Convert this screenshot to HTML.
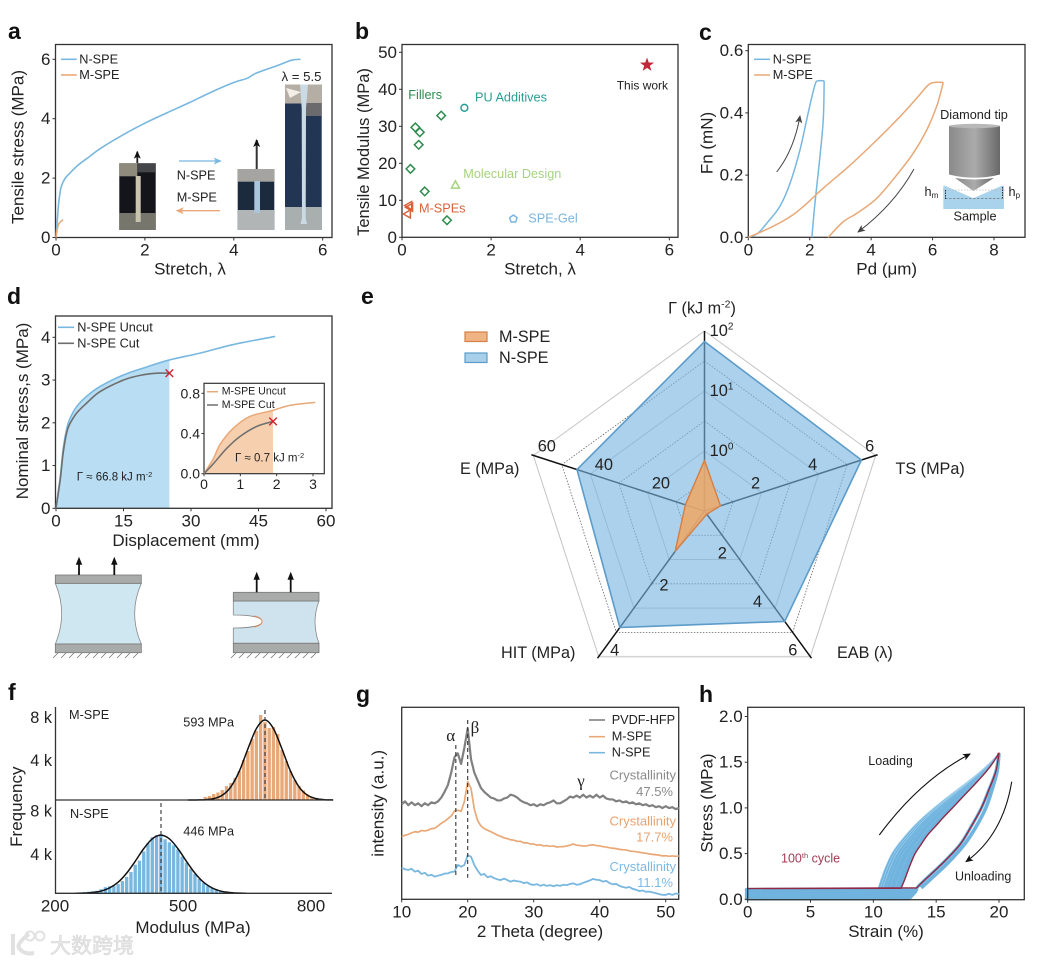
<!DOCTYPE html>
<html lang="en">
<head>
<meta charset="utf-8">
<title>Solid polymer electrolyte mechanical characterization figure</title>
<style>
html,body{margin:0;padding:0;background:#fff;width:1039px;height:964px;overflow:hidden}
svg{display:block}
text{font-family:"Liberation Sans","Noto Sans CJK SC",sans-serif;fill:#222;dominant-baseline:central}
.letter{font-size:23px;font-weight:bold;fill:#111}
.tick{font-size:17px;fill:#222}
.axis{font-size:17px;fill:#222}
.small{font-size:12.7px}
.inset{font-size:10.6px}
.serif{font-family:"Liberation Serif",serif;font-size:17px}
</style>
</head>
<body>
<svg id="figure" xmlns="http://www.w3.org/2000/svg" width="1039" height="964" viewBox="0 0 1039 964">
<defs>
<marker id="arrow-black" markerWidth="9" markerHeight="8" refX="7" refY="3.5" orient="auto" markerUnits="userSpaceOnUse"><path d="M0,0 L8,3.5 L0,7 L2,3.5 Z" fill="#111"/></marker>
<marker id="arrow-gray" markerWidth="9" markerHeight="8" refX="7" refY="3.5" orient="auto" markerUnits="userSpaceOnUse"><path d="M0,0 L8,3.5 L0,7 L2,3.5 Z" fill="#444"/></marker>
<marker id="arrow-blue" markerWidth="9" markerHeight="8" refX="7" refY="3.5" orient="auto" markerUnits="userSpaceOnUse"><path d="M0,0 L8,3.5 L0,7 L2,3.5 Z" fill="#7ab8e0"/></marker>
<marker id="arrow-orange" markerWidth="9" markerHeight="8" refX="7" refY="3.5" orient="auto" markerUnits="userSpaceOnUse"><path d="M0,0 L8,3.5 L0,7 L2,3.5 Z" fill="#e9a877"/></marker>
<linearGradient id="tip-grad" x1="0" x2="1" y1="0" y2="0"><stop offset="0" stop-color="#8a8a8a"/><stop offset=".5" stop-color="#ababab"/><stop offset="1" stop-color="#696969"/></linearGradient>
</defs>

<!-- panel letters -->
<text class="letter" x="8" y="31">a</text>
<text class="letter" x="355" y="31">b</text>
<text class="letter" x="699" y="32">c</text>
<text class="letter" x="7" y="296">d</text>
<text class="letter" x="361" y="296">e</text>
<text class="letter" x="8" y="692">f</text>
<text class="letter" x="356" y="694">g</text>
<text class="letter" x="699" y="694">h</text>

<g id="marks"></g>

<!-- panel a text -->
<text class="axis" x="190" y="269" text-anchor="middle">Stretch, λ</text>
<text class="axis" x="18" y="147" text-anchor="middle" transform="rotate(-90 18 147)">Tensile stress (MPa)</text>
<text class="small" x="79.3" y="59.3">N-SPE</text>
<text class="small" x="79.3" y="75">M-SPE</text>
<text class="small" x="281.5" y="76.5" style="font-size:13.2px">λ = 5.5</text>
<text class="small" x="176.7" y="175.7">N-SPE</text>
<text class="small" x="176.7" y="197.3">M-SPE</text>

<!-- panel b text -->
<text class="axis" x="540" y="269" text-anchor="middle">Stretch, λ</text>
<text class="axis" x="364" y="152" text-anchor="middle" transform="rotate(-90 364 152)" style="font-size:16.5px">Tensile Modulus (MPa)</text>
<text class="small" x="408.3" y="95" style="fill:#2e8b4f">Fillers</text>
<text class="small" x="475" y="97.3" style="fill:#2a9d93">PU Additives</text>
<text class="small" x="463.3" y="174" style="fill:#a5d37f">Molecular Design</text>
<text class="small" x="419" y="208.3" style="fill:#d9623b">M-SPEs</text>
<text class="small" x="528.3" y="218.7" style="fill:#7ab4dd">SPE-Gel</text>
<text class="small" x="616.7" y="85.7" style="font-size:12px">This work</text>

<!-- panel c text -->
<text class="axis" x="886.7" y="269" text-anchor="middle">Pd (μm)</text>
<text class="axis" x="707" y="143" text-anchor="middle" transform="rotate(-90 707 143)">Fn (mN)</text>
<text class="small" x="772.7" y="59.3">N-SPE</text>
<text class="small" x="772.7" y="75">M-SPE</text>

<!-- panel d text -->
<text class="axis" x="186" y="540.7" text-anchor="middle">Displacement (mm)</text>
<text class="axis" x="22.7" y="411" text-anchor="middle" transform="rotate(-90 22.7 411)">Nominal stress,s (MPa)</text>
<text class="small" x="77.3" y="327.3">N-SPE Uncut</text>
<text class="small" x="77.3" y="343.3">N-SPE Cut</text>
<text class="inset" x="221.7" y="391.7">M-SPE Uncut</text>
<text class="inset" x="221.7" y="405">M-SPE Cut</text>
<text x="76.7" y="477.7" style="font-size:11.5px">Γ ≈ 66.8 kJ m<tspan dy="-3.5" font-size="7.5">-2</tspan></text>
<text x="235" y="458.3" style="font-size:11.5px">Γ ≈ 0.7 kJ m<tspan dy="-3.5" font-size="7.5">-2</tspan></text>

<!-- panel e text -->
<text x="702" y="308.6" text-anchor="middle" style="font-size:16.2px">Γ (kJ m<tspan dy="-4" font-size="10.5">-2</tspan><tspan dy="4">)</tspan></text>
<text x="895.5" y="469" style="font-size:16.2px">TS (MPa)</text>
<text x="460" y="469" style="font-size:16.2px">E (MPa)</text>
<text x="501" y="653" style="font-size:16.2px">HIT (MPa)</text>
<text x="837" y="653" style="font-size:16.2px">EAB (λ)</text>
<rect x="465" y="332" width="22" height="9.5" fill="#f0b484" stroke="#d47f45" stroke-width="1.2"/>
<rect x="465" y="353" width="22" height="9.5" fill="#a8d0ea" stroke="#5d9cc9" stroke-width="1.2"/>
<text x="499" y="336.8" style="font-size:16.2px">M-SPE</text>
<text x="499" y="358" style="font-size:16.2px">N-SPE</text>

<!-- panel f text -->
<text class="axis" x="16.7" y="806.7" text-anchor="middle" transform="rotate(-90 16.7 806.7)">Frequency</text>
<text class="axis" x="193" y="927.3" text-anchor="middle">Modulus (MPa)</text>
<text class="small" x="69" y="715">M-SPE</text>
<text class="small" x="70" y="814">N-SPE</text>
<text class="small" x="183.3" y="722.7">593 MPa</text>
<text class="small" x="183.3" y="831.7">446 MPa</text>
<text class="tick" x="52" y="718" text-anchor="end" style="font-size:16.3px">8 k</text>
<text class="tick" x="52" y="761" text-anchor="end" style="font-size:16.3px">4 k</text>
<text class="tick" x="52" y="811.7" text-anchor="end" style="font-size:16.3px">8 k</text>
<text class="tick" x="52" y="855" text-anchor="end" style="font-size:16.3px">4 k</text>

<!-- panel g text -->
<text class="axis" x="540" y="931.7" text-anchor="middle">2 Theta (degree)</text>
<text class="axis" x="378" y="803.3" text-anchor="middle" transform="rotate(-90 378 803.3)">intensity (a.u.)</text>
<text class="small" x="611.7" y="720">PVDF-HFP</text>
<text class="small" x="611.7" y="736.7">M-SPE</text>
<text class="small" x="611.7" y="752.7">N-SPE</text>
<text class="small" x="676" y="775" text-anchor="end" style="fill:#8a8a8a;font-size:13px">Crystallinity</text>
<text class="small" x="673" y="791.7" text-anchor="end" style="fill:#8a8a8a;font-size:13px">47.5%</text>
<text class="small" x="676" y="821" text-anchor="end" style="fill:#e9a26d;font-size:13px">Crystallinity</text>
<text class="small" x="673" y="837" text-anchor="end" style="fill:#e9a26d;font-size:13px">17.7%</text>
<text class="small" x="676" y="866.7" text-anchor="end" style="fill:#7cb9e4;font-size:13px">Crystallinity</text>
<text class="small" x="673" y="882.3" text-anchor="end" style="fill:#7cb9e4;font-size:13px">11.1%</text>
<text class="serif" x="450.7" y="735.7" text-anchor="middle">α</text>
<text class="serif" x="475" y="727.7" text-anchor="middle">β</text>
<text class="serif" x="581" y="781" text-anchor="middle">γ</text>

<!-- panel h text -->
<text class="axis" x="886" y="931.7" text-anchor="middle">Strain (%)</text>
<text class="axis" x="707" y="803" text-anchor="middle" transform="rotate(-90 707 803)">Stress (MPa)</text>
<text x="868.3" y="761" style="font-size:12.5px">Loading</text>
<text x="955" y="876.7" style="font-size:12.5px">Unloading</text>
<text x="781" y="858.3" style="font-size:12.5px;fill:#a33a52">100<tspan dy="-3.5" font-size="7.5">th</tspan><tspan dy="3.5"> cycle</tspan></text>

<!-- watermark -->
<g opacity=".85">
<path d="M13,934 L13,955 M29,934 Q16,944 19,948 Q24,955 34,953" fill="none" stroke="#dcdcdc" stroke-width="4"/>
<circle cx="30" cy="936" r="4.5" fill="none" stroke="#dcdcdc" stroke-width="2"/>
<circle cx="40" cy="936" r="4.5" fill="none" stroke="#dcdcdc" stroke-width="2"/>
<text x="50" y="946.7" style="font-size:21px;fill:#e4e4e4;stroke:#cfcfcf;stroke-width:.6">大数跨境</text>
</g>
</svg>

<script>
/* ---------- panel a data ---------- */
const aStretchN = [0,0.02,0.05,0.08,0.12,0.2,0.3,0.5,0.75,1,1.5,2,2.5,3,3.5,4,4.3,4.5,5,5.3,5.5];
const aStressN = [0,0.4,1,1.4,1.72,1.98,2.15,2.44,2.72,3,3.45,3.85,4.2,4.54,4.9,5.22,5.36,5.53,5.8,5.97,6];
const aStretchM = [0,0.03,0.06,0.1,0.16];
const aStressM = [0,0.3,0.45,0.53,0.6];
const aXTicks = ['0','2','4','6'];
const aYTicks = ['0','2','4','6'];

/* ---------- panel b data ---------- */
const bFillersX = [0.88,0.3,0.4,0.375,0.19,0.51,1.01];
const bFillersY = [32.9,29.7,28.4,25,18.5,12.4,4.6];
const bPuX = [1.4];
const bPuY = [35];
const bMolecularX = [1.2];
const bMolecularY = [14.1];
const bGelX = [2.5];
const bGelY = [5];
const bMspeX = [0.15,0.17,0.12];
const bMspeY = [8.6,8.1,6.3];
const bWorkX = [5.5];
const bWorkY = [46.6];
const bXTicks = ['0','2','4','6'];
const bYTicks = ['0','10','20','30','40','50'];

/* ---------- panel c data ---------- */
const cNLoadDepth = [0,0.3,0.6,1.03,1.36,1.68,1.95,2.17,2.28,2.47];
const cNLoadForce = [0,0.012,0.045,0.1,0.174,0.28,0.4,0.49,0.503,0.503];
const cNUnloadDepth = [2.47,2.44,2.31,2.17,2.07];
const cNUnloadForce = [0.503,0.377,0.238,0.11,0];
const cMLoadDepth = [0,0.7,1.36,1.85,2.44,3.26,4.07,4.89,5.48,5.86,6.08,6.35];
const cMLoadForce = [0,0.03,0.066,0.104,0.158,0.227,0.302,0.383,0.447,0.49,0.498,0.498];
const cMUnloadDepth = [6.35,6.13,5.81,5.37,4.83,4.18,3.53,3.09,2.6];
const cMUnloadForce = [0.498,0.42,0.345,0.27,0.2,0.125,0.077,0.05,0];
const cXTicks = ['0','2','4','6','8'];
const cYTicks = ['0.0','0.2','0.4','0.6'];

/* ---------- panel d data ---------- */
const dUncutDisp = [0,0.5,1,1.6,2.4,3.1,4.6,6.8,9.8,15,20,25.2,32,39.4,48.7];
const dUncutStress = [0,0.39,0.78,1.4,1.87,2.1,2.38,2.62,2.85,3.12,3.3,3.47,3.63,3.83,4.02];
const dCutDisp = [0,0.5,1,1.6,2.4,3.1,4.6,6.8,9.8,15,18.7,22.4,25.2];
const dCutStress = [0,0.35,0.72,1.3,1.78,1.98,2.23,2.46,2.73,3,3.11,3.16,3.16];
const dXTicks = ['0','15','30','45','60'];
const dYTicks = ['0','1','2','3','4'];
const dInsetUncutDisp = [0,0.26,0.44,0.8,1.26,1.9,2.36,3.06];
const dInsetUncutStress = [0,0.15,0.29,0.45,0.57,0.63,0.68,0.71];
const dInsetCutDisp = [0,0.26,0.62,0.99,1.45,1.9];
const dInsetCutStress = [0,0.1,0.25,0.37,0.47,0.52];
const dInsetXTicks = ['0','1','2','3'];
const dInsetYTicks = ['0.0','0.4','0.8'];

/* ---------- panel e data ---------- */
const eAxes = ['toughness','tensile-strength','elongation','hardness','modulus'];
const eMaxima = [100,6,6,4,60];
const eNValues = [66.8,5.5,4.55,3.2,44.7];
const eMValues = [0.7,0.56,0.13,1.11,6.7];
const eRingLevels = [1,2,3,4,5,6];
const eTsTicks = ['2','4','6'];
const eEabTicks = ['2','4','6'];
const eHitTicks = ['2','4'];
const eModulusTicks = ['20','40','60'];
const eToughExponents = ['0','1','2'];

/* ---------- panel f data ---------- */
const fTopBinStart = 542;
const fTopBins = [0.1,0.3,0.4,0.6,0.75,1,1.4,1.7,2.2,2.9,4,4.9,6.1,6.9,8.5,7.8,7.2,7.3,6.6,5,3.9,2.9,2,1.4,0.95,0.55,0.3,0.2,0.12,0.08];
const fTopFitX = [512,532,552,572,592,612,632,652,672,692,712,732,752,772,792,812,832,852];
const fTopFitY = [0,0.006,0.03,0.14,0.47,1.31,2.88,5.1,7.14,8,7.14,5.1,2.88,1.31,0.47,0.14,0.03,0.006];
const fBottomBinStart = 268;
const fBottomBins = [0.1,0.15,0.2,0.25,0.4,0.6,0.7,0.7,0.9,1.2,1.6,2.1,2.8,3.2,4.1,4.9,5.5,5.7,5.8,5.3,5,4.7,4.3,3.6,3,2.4,1.9,1.4,1,0.7,0.55,0.35,0.2,0.08];
const fBottomFitX = [248,268,288,308,328,348,368,388,408,428,448,468,488,508,528,548,568,588,608,628,648];
const fBottomFitY = [0.008,0.027,0.083,0.22,0.53,1.09,1.98,3.14,4.38,5.34,5.7,5.34,4.38,3.14,1.98,1.09,0.53,0.22,0.083,0.027,0.008];
const fXTicks = ['200','500','800'];

/* ---------- panel g data (sampled every 0.5 degree from 10 to 52) ---------- */
const gPvdf = [49.5,51,49,50.5,49,50,48.5,50,49,50.5,50,51,53,56,59.5,66,74,76,70.5,79,89,73,66,62,58,56,54.5,53,52.5,51.5,51.5,52.5,53,54.5,54,53,51.5,50.5,50,49,49.5,48.5,49.5,49,50,50.5,51.5,50,50,51,52,53.5,53,54,53,54.5,53,54,53,54.5,53,54,52.5,52,52,51,51.5,50.5,51,50,50.5,49.5,50,49,49.5,48.5,49,48,48.5,47.5,48.5,47.5,48,47,47.5];
const gMspe = [32.6,33.4,33.8,34.6,35.2,35,35.8,35.6,36,36.8,37,38.2,39.6,40.6,42,43.4,46,46.4,45.8,51,61.3,57.8,47,41,38.2,36.8,36,35.2,34.4,33.4,32.8,32,31.6,31,30.8,30.2,30.2,29.4,29.4,28.8,28.8,28.2,28.4,27.8,28,27.6,27.8,27.2,27.4,27.4,27.8,28.2,28.8,28.2,28,27.8,27.8,28.2,28.4,28,27.8,27.4,27.2,26.8,26.6,26.4,26,25.8,25.7,25.2,25,24.8,24.5,24.2,24,23.6,23.4,23.2,23,22.6,22.7,22.4,22.6,22.4,22.6];
const gNspe = [16.5,15.6,15.3,15.9,14.4,14.9,13.2,13.8,12.3,12.8,11.8,12.3,12.7,13.4,13.5,14.2,14.4,17.9,17,17.9,23,22.2,17.9,15,12.7,13.2,11.5,12,11,10.4,10,10.8,10,9.2,9.8,9.4,9.2,8.4,8.8,7.8,7.5,7.9,7,7.6,7,7.4,6.8,7.4,7,7.6,7.4,8,8.3,7.6,7.8,8.6,9.2,9.8,10.6,10.2,10,9.2,9.6,8.4,7.8,8,7,6.4,6,6.4,5.4,5,4.3,4.6,3.9,4,3.6,3.2,2.7,2.3,2.3,2.9,2.3,3,2.8];
const gXTicks = ['10','20','30','40','50'];
const gAlphaTheta = 18.2;
const gBetaTheta = 20;

/* ---------- panel h data ---------- */
const hLoadStress = [0.12,0.2,0.3,0.4,0.5,0.6,0.7,0.8,0.9,1,1.1,1.2,1.3,1.4,1.5,1.6];
const hLoadCycle1 = [10.35,10.55,10.8,11.1,11.45,11.95,12.55,13.2,13.95,14.8,15.7,16.65,17.6,18.5,19.3,20];
const hLoadCycle2 = [10.55,10.75,11,11.3,11.65,12.15,12.75,13.38,14.12,14.95,15.83,16.75,17.68,18.55,19.33,20];
const hLoadCycle5 = [10.75,10.95,11.2,11.5,11.85,12.35,12.95,13.56,14.28,15.1,15.95,16.85,17.75,18.6,19.36,20];
const hLoadCycle10 = [11,11.2,11.45,11.75,12.1,12.6,13.2,13.8,14.5,15.3,16.1,16.98,17.85,18.68,19.4,20];
const hLoadCycle20 = [11.3,11.5,11.75,12.05,12.4,12.9,13.45,14.05,14.75,15.5,16.3,17.15,18,18.78,19.45,20];
const hLoadCycle50 = [11.7,11.95,12.2,12.5,12.85,13.35,13.9,14.5,15.2,15.9,16.65,17.4,18.15,18.9,19.5,20];
const hLoadCycle100 = [12.2,12.45,12.72,13,13.32,13.8,14.3,14.95,15.6,16.3,16.98,17.67,18.35,19,19.55,20];
const hUnloadStress = [1.6,1.4,1.2,1,0.8,0.6,0.4,0.2,0.125];
const hUnloadCycle1 = [20,19.85,19.45,18.95,18.2,17.25,15.95,14.4,13.8];
const hUnloadCycle100 = [20,19.75,19.2,18.6,17.8,16.9,15.55,14,13.45];
const hResidualStress = [0.005,0.02,0.035,0.05,0.065,0.08,0.095,0.108];
const hResidualEnd = [12.8,12.95,13.05,13.15,13.25,13.35,13.4,13.45];
const hCycle100Flat = 0.118;
const hXTicks = ['0','5','10','15','20'];
const hYTicks = ['0.0','0.5','1.0','1.5','2.0'];

/* ---------- colours ---------- */
const BLUE = '#78b7e0';
const ORANGE = '#e9a877';
const GRAY = '#6e6e6e';
const SPINE = '#333';
const NS = 'http://www.w3.org/2000/svg';
const root = document.getElementById('marks');

/* ---------- helpers ---------- */
function scale(d0, d1, r0, r1) { return v => r0 + (v - d0) * (r1 - r0) / (d1 - d0); }
function add(parent, tag, attrs, name) {
  const el = document.createElementNS(NS, tag);
  for (const k in attrs) el.setAttribute(k, attrs[k]);
  
  
  parent.appendChild(el);
  return el;
}
function panel(name) {
  const g = document.createElementNS(NS, 'g');
  
  
  root.appendChild(g);
  return g;
}
function txt(parent, x, y, s, cls, anchor, name) {
  const el = add(parent, 'text', {x: x, y: y, class: cls, 'text-anchor': anchor}, name);
  el.textContent = s;
  return el;
}
function straight(xs, ys, sx, sy) {
  return xs.map((v, i) => (i ? 'L' : 'M') + sx(v).toFixed(2) + ',' + sy(ys[i]).toFixed(2)).join(' ');
}
function smooth(xs, ys, sx, sy) {
  const p = xs.map((v, i) => [sx(v), sy(ys[i])]);
  let d = 'M' + p[0][0].toFixed(2) + ',' + p[0][1].toFixed(2);
  for (let i = 0; i < p.length - 1; i++) {
    const a = p[Math.max(i - 1, 0)], b = p[i], c = p[i + 1], e = p[Math.min(i + 2, p.length - 1)];
    const c1x = b[0] + (c[0] - a[0]) / 6, c1y = b[1] + (c[1] - a[1]) / 6;
    const c2x = c[0] - (e[0] - b[0]) / 6, c2y = c[1] - (e[1] - b[1]) / 6;
    d += ' C' + c1x.toFixed(2) + ',' + c1y.toFixed(2) + ' ' + c2x.toFixed(2) + ',' + c2y.toFixed(2) + ' ' + c[0].toFixed(2) + ',' + c[1].toFixed(2);
  }
  return d;
}
function line(g, d, color, width, name) {
  return add(g, 'path', {d: d, fill: 'none', stroke: color, 'stroke-width': width, 'stroke-linejoin': 'round'}, name);
}
function frame(g, box, sx, sy, xTicks, yTicks, prefix, tickClass, tickSize) {
  add(g, 'rect', {x: box.x0, y: box.y0, width: box.x1 - box.x0, height: box.y1 - box.y0, fill: 'none', stroke: SPINE, 'stroke-width': 1.3}, prefix + '-plot-frame');
  const cls = tickClass || 'tick';
  const len = tickSize || 3;
  xTicks.forEach(t => {
    const x = sx(parseFloat(t));
    add(g, 'line', {x1: x, x2: x, y1: box.y1, y2: box.y1 + len, stroke: SPINE, 'stroke-width': 1}, prefix + '-x-tick-mark');
    txt(g, x, box.y1 + 12.5, t, cls, 'middle', prefix + '-x-tick-label');
  });
  yTicks.forEach(t => {
    const y = sy(parseFloat(t));
    add(g, 'line', {x1: box.x0 - len, x2: box.x0, y1: y, y2: y, stroke: SPINE, 'stroke-width': 1}, prefix + '-y-tick-mark');
    txt(g, box.x0 - 5, y, t, cls, 'end', prefix + '-y-tick-label');
  });
}
function cross(g, x, y, r, name) {
  add(g, 'path', {d: `M${x-r},${y-r} L${x+r},${y+r} M${x-r},${y+r} L${x+r},${y-r}`, stroke: '#d4212f', 'stroke-width': 1.4, fill: 'none'}, name);
}

/* ---------- panel a ---------- */
(function () {
  const g = panel('panel-a-tensile-chart');
  const box = {x0: 55.5, x1: 332, y0: 44.5, y1: 237.5};
  const sx = scale(0, 6, 56, 322.7), sy = scale(0, 6, 237.5, 59.3);
  frame(g, box, sx, sy, aXTicks, aYTicks, 'a');
  line(g, smooth(aStretchN, aStressN, sx, sy), BLUE, 1.6, 'a-n-spe-curve');
  line(g, smooth(aStretchM, aStressM, sx, sy), ORANGE, 1.6, 'a-m-spe-curve');
  add(g, 'line', {x1: 61, x2: 76.7, y1: 59.3, y2: 59.3, stroke: BLUE, 'stroke-width': 1.6}, 'a-legend-line-n-spe');
  add(g, 'line', {x1: 61, x2: 76.7, y1: 75, y2: 75, stroke: ORANGE, 'stroke-width': 1.6}, 'a-legend-line-m-spe');

  const p1 = add(g, 'g', {}, 'a-photo-initial');
  add(p1, 'rect', {x: 119.3, y: 163.3, width: 36.4, height: 66.7, fill: '#14151b'}, 'photo-background');
  add(p1, 'rect', {x: 119.3, y: 163.3, width: 18, height: 13, fill: '#8f8b7c'}, 'photo-top-clamp-left');
  add(p1, 'rect', {x: 137.3, y: 163.3, width: 18.4, height: 9, fill: '#45464a'}, 'photo-top-clamp-right');
  add(p1, 'rect', {x: 119.3, y: 213, width: 36.4, height: 17, fill: '#77766d'}, 'photo-bottom-clamp');
  add(p1, 'rect', {x: 135.7, y: 176, width: 5, height: 46, fill: '#c8c4b0'}, 'photo-sample-strip');
  const p2 = add(g, 'g', {}, 'a-photo-intermediate');
  add(p2, 'rect', {x: 237.7, y: 169, width: 36.6, height: 61, fill: '#1c2a3d'}, 'photo-background');
  add(p2, 'rect', {x: 237.7, y: 169, width: 36.6, height: 12.7, fill: '#a5a4a0'}, 'photo-top-clamp');
  add(p2, 'rect', {x: 237.7, y: 210, width: 36.6, height: 20, fill: '#b2b5b5'}, 'photo-bottom-clamp');
  add(p2, 'rect', {x: 254.3, y: 181, width: 5.7, height: 32, fill: '#a9c6dc'}, 'photo-sample-strip');
  const p3 = add(g, 'g', {}, 'a-photo-stretched');
  add(p3, 'rect', {x: 285, y: 84.5, width: 36.7, height: 145.5, fill: '#223654'}, 'photo-background');
  add(p3, 'rect', {x: 285, y: 84.5, width: 36.7, height: 19, fill: '#b5aea5'}, 'photo-top-clamp');
  add(p3, 'rect', {x: 306, y: 103, width: 15.7, height: 13, fill: '#6b6a6c'}, 'photo-top-shadow');
  add(p3, 'path', {d: 'M286,88 L301,92 L290,98 Z', fill: '#f3efe6'}, 'photo-top-highlight');
  add(p3, 'rect', {x: 285, y: 207, width: 36.7, height: 23, fill: '#a9aeae'}, 'photo-bottom-clamp');
  add(p3, 'path', {d: 'M300,84.5 L308,84.5 L306,108 L305.7,218 L307,224 L300.5,224 L302,218 L301.7,108 Z', fill: '#cbdbe6'}, 'photo-sample-strip');

  add(g, 'line', {x1: 137.3, x2: 137.3, y1: 163, y2: 151.7, stroke: '#222', 'stroke-width': 1.8, 'marker-end': 'url(#arrow-black)'}, 'a-photo-arrow-1');
  add(g, 'line', {x1: 256.7, x2: 256.7, y1: 169, y2: 140, stroke: '#333', 'stroke-width': 2, 'marker-end': 'url(#arrow-black)'}, 'a-photo-arrow-2');
  add(g, 'line', {x1: 179, x2: 220.7, y1: 161, y2: 161, stroke: BLUE, 'stroke-width': 1.3, 'marker-end': 'url(#arrow-blue)'}, 'a-n-spe-arrow');
  add(g, 'line', {x1: 220, x2: 176.7, y1: 210.7, y2: 210.7, stroke: ORANGE, 'stroke-width': 1.3, 'marker-end': 'url(#arrow-orange)'}, 'a-m-spe-arrow');
})();

/* ---------- panel b ---------- */
(function () {
  const g = panel('panel-b-modulus-scatter');
  const box = {x0: 402, x1: 678, y0: 44.5, y1: 237.3};
  const sx = scale(0, 6, 402, 669.3), sy = scale(0, 50, 237.3, 52.3);
  frame(g, box, sx, sy, bXTicks, bYTicks, 'b');
  const base = {fill: 'none', 'stroke-width': 1.5};
  bFillersX.forEach((v, i) => {
    const x = sx(v), y = sy(bFillersY[i]), r = 4.3;
    add(g, 'path', Object.assign({d: `M${x},${y-r} L${x+r},${y} L${x},${y+r} L${x-r},${y} Z`, stroke: '#2e8b4f'}, base), 'b-point-fillers');
  });
  bPuX.forEach((v, i) => {
    add(g, 'circle', Object.assign({cx: sx(v), cy: sy(bPuY[i]), r: 3.4, stroke: '#2a9d93'}, base), 'b-point-pu-additives');
  });
  bMolecularX.forEach((v, i) => {
    const x = sx(v), y = sy(bMolecularY[i]);
    add(g, 'path', Object.assign({d: `M${x},${y-4.3} L${x+4},${y+3} L${x-4},${y+3} Z`, stroke: '#a5d37f'}, base), 'b-point-molecular-design');
  });
  bGelX.forEach((v, i) => {
    const x = sx(v), y = sy(bGelY[i]);
    add(g, 'path', Object.assign({d: `M${x},${y-3.8} L${x+3.7},${y-1.1} L${x+2.3},${y+3.2} L${x-2.3},${y+3.2} L${x-3.7},${y-1.1} Z`, stroke: '#7ab4dd'}, base), 'b-point-spe-gel');
  });
  bMspeX.forEach((v, i) => {
    const x = sx(v), y = sy(bMspeY[i]);
    add(g, 'path', Object.assign({d: `M${x-4},${y} L${x+3},${y-4} L${x+3},${y+4} Z`, stroke: '#d9623b'}, base), 'b-point-m-spe');
  });
  bWorkX.forEach((v, i) => {
    const x = sx(v), y = sy(bWorkY[i]), pts = [];
    for (let k = 0; k < 10; k++) {
      const r = k % 2 ? 3 : 7.4, a = -Math.PI / 2 + k * Math.PI / 5;
      pts.push((x + r * Math.cos(a)).toFixed(2) + ',' + (y + r * Math.sin(a)).toFixed(2));
    }
    add(g, 'polygon', {points: pts.join(' '), fill: '#c3283a'}, 'b-point-this-work-star');
  });
})();

/* ---------- panel c ---------- */
(function () {
  const g = panel('panel-c-nanoindentation-chart');
  const box = {x0: 748.3, x1: 1025, y0: 44.5, y1: 237.3};
  const sx = scale(0, 8, 748.3, 994), sy = scale(0, 0.6, 237.3, 50.7);
  frame(g, box, sx, sy, cXTicks, cYTicks, 'c');
  line(g, smooth(cNLoadDepth, cNLoadForce, sx, sy), BLUE, 1.5, 'c-n-spe-loading-curve');
  line(g, smooth(cNUnloadDepth, cNUnloadForce, sx, sy), BLUE, 1.5, 'c-n-spe-unloading-curve');
  line(g, smooth(cMLoadDepth, cMLoadForce, sx, sy), ORANGE, 1.5, 'c-m-spe-loading-curve');
  line(g, smooth(cMUnloadDepth, cMUnloadForce, sx, sy), ORANGE, 1.5, 'c-m-spe-unloading-curve');
  add(g, 'line', {x1: 754, x2: 770, y1: 59.3, y2: 59.3, stroke: BLUE, 'stroke-width': 1.5}, 'c-legend-line-n-spe');
  add(g, 'line', {x1: 754, x2: 770, y1: 75, y2: 75, stroke: ORANGE, 'stroke-width': 1.5}, 'c-legend-line-m-spe');
  add(g, 'path', {d: 'M776.7,172 Q794,150 800,116', fill: 'none', stroke: '#444', 'stroke-width': 1, 'marker-end': 'url(#arrow-gray)'}, 'c-loading-arrow');
  add(g, 'path', {d: 'M914,169 Q894,205 858,232', fill: 'none', stroke: '#444', 'stroke-width': 1, 'marker-end': 'url(#arrow-gray)'}, 'c-unloading-arrow');

  const s = add(g, 'g', {}, 'c-indenter-schematic');
  add(s, 'path', {d: 'M943.3,185.7 L945,185.7 L973.3,198.3 L1001.7,185.7 L1004,185.7 L1004,209 L943.3,209 Z', fill: '#a9d3ec'}, 'c-sample-block');
  add(s, 'path', {d: 'M955,178 Q974,181 994,178 L973.5,191 Z', fill: 'url(#tip-grad)'}, 'c-tip-cone');
  add(s, 'path', {d: 'M949,126 L949,174.5 Q974.5,181 1000,174.5 L1000,126 Z', fill: 'url(#tip-grad)'}, 'c-tip-cylinder');
  add(s, 'ellipse', {cx: 974.5, cy: 126, rx: 25.5, ry: 2.2, fill: '#b8b8b8'}, 'c-tip-cylinder-top');
  add(s, 'path', {d: 'M943,190 L1005,190', stroke: '#bbb', 'stroke-width': 0.7, 'stroke-dasharray': '1.5 1.5', fill: 'none'}, 'c-surface-guide');
  add(s, 'path', {d: 'M945,198.7 L1003,198.7', stroke: '#666', 'stroke-width': 0.7, 'stroke-dasharray': '2.5 1.5', fill: 'none'}, 'c-depth-guide');
  add(s, 'path', {d: 'M945.5,190 L945.5,199 M1002.5,187 L1002.5,198', stroke: '#222', 'stroke-width': 0.9, 'stroke-dasharray': '1.5 1', fill: 'none'}, 'c-depth-markers');
  txt(s, 974, 115, 'Diamond tip', 'small', 'middle', 'c-diamond-tip-label');
  txt(s, 975, 216.7, 'Sample', 'small', 'middle', 'c-sample-label');
  const hm = txt(s, 924.5, 192, 'h', 'small', 'start', 'c-hm-label');
  const hmSub = add(hm, 'tspan', {dy: 3, 'font-size': 8}, 'c-hm-subscript');
  hmSub.textContent = 'm';
  const hp = txt(s, 1008.5, 192, 'h', 'small', 'start', 'c-hp-label');
  const hpSub = add(hp, 'tspan', {dy: 3, 'font-size': 8}, 'c-hp-subscript');
  hpSub.textContent = 'p';
})();

/* ---------- panel d ---------- */
(function () {
  const g = panel('panel-d-tearing-chart');
  const box = {x0: 55.5, x1: 332, y0: 316, y1: 508.3};
  const sx = scale(0, 60, 56, 326), sy = scale(0, 4, 508.3, 337.3);
  const fillEnd = dCutDisp[dCutDisp.length - 1];
  const fillX = dUncutDisp.filter(v => v <= fillEnd);
  const fillY = fillX.map(v => dUncutStress[dUncutDisp.indexOf(v)]);
  add(g, 'path', {d: smooth(fillX, fillY, sx, sy) + ` L${sx(fillEnd)},${sy(0)} L${sx(0)},${sy(0)} Z`, fill: '#b9def3'}, 'd-energy-area');
  frame(g, box, sx, sy, dXTicks, dYTicks, 'd');
  line(g, smooth(dUncutDisp, dUncutStress, sx, sy), BLUE, 1.6, 'd-n-spe-uncut-curve');
  line(g, smooth(dCutDisp, dCutStress, sx, sy), GRAY, 1.6, 'd-n-spe-cut-curve');
  cross(g, sx(fillEnd), sy(dCutStress[dCutStress.length - 1]), 3.8, 'd-n-spe-fracture-marker');
  add(g, 'line', {x1: 58, x2: 74, y1: 327.3, y2: 327.3, stroke: BLUE, 'stroke-width': 1.6}, 'd-legend-line-uncut');
  add(g, 'line', {x1: 58, x2: 74, y1: 343.3, y2: 343.3, stroke: GRAY, 'stroke-width': 1.6}, 'd-legend-line-cut');

  const inset = add(g, 'g', {}, 'd-inset-chart');
  const ibox = {x0: 204, x1: 324.3, y0: 383.3, y1: 473.7};
  const ix = scale(0, 3, 204, 313), iy = scale(0, 0.8, 473.7, 393.3);
  add(inset, 'rect', {x: ibox.x0, y: ibox.y0, width: ibox.x1 - ibox.x0, height: ibox.y1 - ibox.y0, fill: '#fff'}, 'd-inset-background');
  const iEnd = dInsetCutDisp[dInsetCutDisp.length - 1];
  const ifx = dInsetUncutDisp.filter(v => v <= iEnd);
  const ify = ifx.map(v => dInsetUncutStress[dInsetUncutDisp.indexOf(v)]);
  add(inset, 'path', {d: smooth(ifx, ify, ix, iy) + ` L${ix(iEnd)},${iy(0)} L${ix(0)},${iy(0)} Z`, fill: '#f6cfae'}, 'd-inset-energy-area');
  add(inset, 'rect', {x: ibox.x0, y: ibox.y0, width: ibox.x1 - ibox.x0, height: ibox.y1 - ibox.y0, fill: 'none', stroke: SPINE, 'stroke-width': 1.2}, 'd-inset-frame');
  dInsetXTicks.forEach(t => {
    const x = ix(parseFloat(t));
    add(inset, 'line', {x1: x, x2: x, y1: ibox.y1, y2: ibox.y1 + 2.5, stroke: SPINE, 'stroke-width': 1}, 'd-inset-x-tick-mark');
    const el = txt(inset, x, ibox.y1 + 10.5, t, 'tick', 'middle', 'd-inset-x-tick-label');
    el.style.fontSize = '14px';
  });
  dInsetYTicks.forEach(t => {
    const y = iy(parseFloat(t));
    add(inset, 'line', {x1: ibox.x0 - 2.5, x2: ibox.x0, y1: y, y2: y, stroke: SPINE, 'stroke-width': 1}, 'd-inset-y-tick-mark');
    const el = txt(inset, ibox.x0 - 4, y, t, 'tick', 'end', 'd-inset-y-tick-label');
    el.style.fontSize = '14px';
  });
  line(inset, smooth(dInsetUncutDisp, dInsetUncutStress, ix, iy), ORANGE, 1.5, 'd-inset-m-spe-uncut-curve');
  line(inset, smooth(dInsetCutDisp, dInsetCutStress, ix, iy), GRAY, 1.5, 'd-inset-m-spe-cut-curve');
  cross(inset, ix(iEnd), iy(dInsetCutStress[dInsetCutStress.length - 1]), 3.8, 'd-inset-fracture-marker');
  add(inset, 'line', {x1: 207, x2: 218, y1: 391.7, y2: 391.7, stroke: ORANGE, 'stroke-width': 1.5}, 'd-inset-legend-line-uncut');
  add(inset, 'line', {x1: 207, x2: 218, y1: 405, y2: 405, stroke: GRAY, 'stroke-width': 1.5}, 'd-inset-legend-line-cut');

  const sc = add(g, 'g', {}, 'd-specimen-schematics');
  const grip = {fill: '#a9abab', stroke: '#777', 'stroke-width': 0.8};
  const arrowUp = (x, y0, y1, name) => {
    add(sc, 'line', {x1: x, x2: x, y1: y0, y2: y1 + 5, stroke: '#111', 'stroke-width': 1.8}, name);
    add(sc, 'path', {d: `M${x},${y1} L${x+3.2},${y1+8} L${x-3.2},${y1+8} Z`, fill: '#111'}, name + '-head');
  };
  add(sc, 'path', {d: 'M55.3,583.3 Q68,613.5 55.3,644 L141.3,644 Q128,613.5 141.3,583.3 Z', fill: '#cfe7f1', stroke: '#888', 'stroke-width': 0.8}, 'd-uncut-specimen');
  add(sc, 'rect', Object.assign({x: 55.3, y: 575, width: 86, height: 8.3}, grip), 'd-uncut-top-grip');
  add(sc, 'rect', Object.assign({x: 55.3, y: 644, width: 86, height: 8.7}, grip), 'd-uncut-bottom-grip');
  arrowUp(79, 575, 556.7, 'd-uncut-arrow-left');
  arrowUp(114.3, 575, 556.7, 'd-uncut-arrow-right');
  add(sc, 'path', {d: 'M233.3,601 L233.3,615 C250,615 262,617 262,621.5 C262,626 250,628 233.3,628 L233.3,643.3 L319,643.3 Q311,622 319,601 Z', fill: '#cfe3ee', stroke: '#888', 'stroke-width': 0.8}, 'd-cut-specimen');
  add(sc, 'path', {d: 'M254,616 C259,617 262,619 262,621.5 C262,624 259,626 254,627', fill: 'none', stroke: '#e08a5f', 'stroke-width': 0.9}, 'd-crack-tip');
  add(sc, 'rect', Object.assign({x: 233.3, y: 592.3, width: 85.7, height: 8.7}, grip), 'd-cut-top-grip');
  add(sc, 'rect', Object.assign({x: 233.3, y: 643.3, width: 85.7, height: 9.4}, grip), 'd-cut-bottom-grip');
  arrowUp(256.7, 592.3, 571.7, 'd-cut-arrow-left');
  arrowUp(290.7, 592.3, 571.7, 'd-cut-arrow-right');
  let h1 = '', h2 = '';
  for (let k = 0; k < 11; k++) { h1 += `M${58 + k * 8},653 l-5,5 `; h2 += `M${236 + k * 8},653 l-5,5 `; }
  add(sc, 'path', {d: h1, stroke: '#777', 'stroke-width': 0.8, fill: 'none'}, 'd-uncut-ground-hatch');
  add(sc, 'path', {d: h2, stroke: '#777', 'stroke-width': 0.8, fill: 'none'}, 'd-cut-ground-hatch');
})();

/* ---------- panel e ---------- */
(function () {
  const g = panel('panel-e-radar-chart');
  const cx = 704.5, cy = 511, R = 180;
  const angle = i => (-90 + i * 72) * Math.PI / 180;
  const radial = (i, v) => i === 0 ? R / 3 * (1 + Math.log10(v)) : R * v / eMaxima[i];
  const point = (i, r) => [cx + r * Math.cos(angle(i)), cy + r * Math.sin(angle(i))];
  eRingLevels.forEach(level => {
    const r = R * level / 6;
    const pts = eAxes.map((_, i) => point(i, r).map(n => n.toFixed(2)).join(',')).join(' ');
    const el = add(g, 'polygon', {points: pts, fill: 'none', stroke: level % 2 ? '#666' : '#c4c4c4', 'stroke-width': level % 2 ? 0.8 : 1}, 'e-grid-ring');
    if (level % 2) el.setAttribute('stroke-dasharray', '1.5 1.5');
  });
  const bl = point(3, R), br = point(2, R);
  add(g, 'line', {x1: bl[0], y1: bl[1], x2: br[0], y2: br[1], stroke: '#d4d4d4', 'stroke-width': 1.6}, 'e-outer-ring-bottom');
  eAxes.forEach((name, i) => {
    const e = point(i, R + (i === 0 ? 0 : 2));
    add(g, 'line', {x1: cx, y1: cy, x2: e[0], y2: e[1], stroke: '#111', 'stroke-width': 1.5}, 'e-axis-line-' + name);
  });
  const poly = vals => vals.map((v, i) => point(i, radial(i, v)).map(n => n.toFixed(2)).join(',')).join(' ');
  add(g, 'polygon', {points: poly(eNValues), fill: '#78b5e0', 'fill-opacity': 0.62, stroke: '#5d9cc9', 'stroke-width': 1.6, 'stroke-linejoin': 'round'}, 'e-n-spe-polygon');
  add(g, 'polygon', {points: poly(eMValues), fill: '#eda869', 'fill-opacity': 0.88, stroke: '#d47f45', 'stroke-width': 1.4, 'stroke-linejoin': 'round'}, 'e-m-spe-polygon');

  const label = (x, y, s, name) => { const el = txt(g, x, y, s, 'tick', 'middle', name); el.style.fontSize = '16.4px'; return el; };
  eToughExponents.forEach(exp => {
    const p = point(0, radial(0, Math.pow(10, parseFloat(exp))));
    const el = label(p[0] + 17, p[1], '10', 'e-toughness-tick-label');
    const sup = add(el, 'tspan', {dy: -4.5, 'font-size': 10}, 'e-toughness-tick-exponent');
    sup.textContent = exp;
  });
  eTsTicks.forEach(t => { const p = point(1, radial(1, parseFloat(t))); label(p[0] - 6, p[1] - 9, t, 'e-ts-tick-label'); });
  eEabTicks.forEach(t => { const p = point(2, radial(2, parseFloat(t))); label(p[0] - 17.5, p[1] - 6, t, 'e-eab-tick-label'); });
  eHitTicks.forEach((t, k) => {
    const p = point(3, radial(3, parseFloat(t)));
    label(p[0] + (k ? 16 : 12.4), p[1] + (k ? -6 : 1.8), t, 'e-hit-tick-label');
  });
  eModulusTicks.forEach(t => { const p = point(4, radial(4, parseFloat(t))); label(p[0] + 13.5, p[1] - 9, t, 'e-modulus-tick-label'); });
})();

/* ---------- panel f ---------- */
(function () {
  const g = panel('panel-f-modulus-histograms');
  const sx = scale(200, 800, 55, 311);
  const topY = scale(0, 8, 800, 720), botY = scale(0, 8, 893.3, 811.7);
  const step = 10, w = (sx(step) - sx(0)) * 0.78;
  fTopBins.forEach((v, i) => {
    const x = sx(fTopBinStart + i * step);
    add(g, 'rect', {x: x - w / 2, y: topY(v), width: w, height: 800 - topY(v), fill: ORANGE}, 'f-top-bar');
  });
  fBottomBins.forEach((v, i) => {
    const x = sx(fBottomBinStart + i * step);
    add(g, 'rect', {x: x - w / 2, y: botY(v), width: w, height: 893.3 - botY(v), fill: BLUE}, 'f-bottom-bar');
  });
  line(g, smooth(fTopFitX, fTopFitY, sx, topY), '#111', 1.5, 'f-top-fit-curve');
  line(g, smooth(fBottomFitX, fBottomFitY, sx, botY), '#111', 1.5, 'f-bottom-fit-curve');
  add(g, 'line', {x1: 265, x2: 265, y1: 710, y2: 800, stroke: '#333', 'stroke-width': 1.1, 'stroke-dasharray': '4 3'}, 'f-top-mean-line');
  add(g, 'line', {x1: 161, x2: 161, y1: 803, y2: 893, stroke: '#333', 'stroke-width': 1.1, 'stroke-dasharray': '4 3'}, 'f-bottom-mean-line');
  add(g, 'line', {x1: 55.5, x2: 55.5, y1: 707, y2: 893.3, stroke: SPINE, 'stroke-width': 1.3}, 'f-y-axis-line');
  add(g, 'line', {x1: 55, x2: 332, y1: 800, y2: 800, stroke: SPINE, 'stroke-width': 1.3}, 'f-middle-axis-line');
  add(g, 'line', {x1: 55, x2: 332, y1: 893.3, y2: 893.3, stroke: SPINE, 'stroke-width': 1.3}, 'f-x-axis-line');
  fXTicks.forEach(t => { txt(g, sx(parseFloat(t)), 906, t, 'tick', 'middle', 'f-x-tick-label'); });
})();

/* ---------- panel g ---------- */
(function () {
  const g = panel('panel-g-xrd-chart');
  const box = {x0: 401.7, x1: 678.7, y0: 707.3, y1: 899.3};
  const sx = scale(10, 50, 401.7, 665.7), sy = scale(0, 100, 899.3, 707.3);
  frame(g, box, sx, sy, gXTicks, [], 'g');
  const thetaOf = arr => arr.map((_, i) => 10 + i * 0.5);
  line(g, straight(thetaOf(gPvdf), gPvdf, sx, sy), '#808080', 2.2, 'g-pvdf-hfp-curve');
  line(g, straight(thetaOf(gMspe), gMspe, sx, sy), ORANGE, 1.7, 'g-m-spe-curve');
  line(g, straight(thetaOf(gNspe), gNspe, sx, sy), BLUE, 1.8, 'g-n-spe-curve');
  add(g, 'line', {x1: sx(gAlphaTheta), x2: sx(gAlphaTheta), y1: 745, y2: 877.7, stroke: '#333', 'stroke-width': 1.1, 'stroke-dasharray': '4 3'}, 'g-alpha-guide');
  add(g, 'line', {x1: sx(gBetaTheta), x2: sx(gBetaTheta), y1: 720, y2: 877.7, stroke: '#333', 'stroke-width': 1.1, 'stroke-dasharray': '4 3'}, 'g-beta-guide');
  add(g, 'line', {x1: 589, x2: 605, y1: 720, y2: 720, stroke: '#808080', 'stroke-width': 1.6}, 'g-legend-line-pvdf-hfp');
  add(g, 'line', {x1: 589, x2: 605, y1: 736.7, y2: 736.7, stroke: ORANGE, 'stroke-width': 1.6}, 'g-legend-line-m-spe');
  add(g, 'line', {x1: 589, x2: 605, y1: 752.7, y2: 752.7, stroke: BLUE, 'stroke-width': 1.6}, 'g-legend-line-n-spe');
})();

/* ---------- panel h ---------- */
(function () {
  const g = panel('panel-h-cyclic-chart');
  const box = {x0: 747.7, x1: 1024.3, y0: 707.3, y1: 899.7};
  const sx = scale(0, 20, 747.7, 999), sy = scale(0, 2, 899.3, 716.5);
  const band = '#6fb3de';
  hResidualStress.forEach((s, i) => {
    const el = line(g, `M${sx(-0.1)},${sy(s)} L${sx(hResidualEnd[i])},${sy(s)}`, band, 3.2, 'h-residual-cycle');
    el.setAttribute('stroke-linecap', 'round');
  });
  const asLine = d => d.replace('M', 'L');
  const bandPath = smooth(hLoadCycle1, hLoadStress, sx, sy) + ' ' + asLine(smooth(hLoadCycle100.slice().reverse(), hLoadStress.slice().reverse(), sx, sy)) + ' Z';
  add(g, 'path', {d: bandPath, fill: band}, 'h-loading-band');
  [hLoadCycle1, hLoadCycle2, hLoadCycle5].forEach(c => { line(g, smooth(c, hLoadStress, sx, sy), '#a9d4ee', 0.6, 'h-loading-cycle'); });
  [hLoadCycle10, hLoadCycle20, hLoadCycle50].forEach(c => { line(g, smooth(c, hLoadStress, sx, sy), '#7dbce3', 0.8, 'h-loading-cycle'); });
  line(g, smooth(hUnloadCycle1, hUnloadStress, sx, sy), band, 3.6, 'h-unloading-cycle-1');
  line(g, smooth(hUnloadCycle100, hUnloadStress, sx, sy), band, 3.2, 'h-unloading-cycle-50');
  const redPath = `M${sx(0)},${sy(hCycle100Flat)} ` + asLine(smooth(hLoadCycle100, hLoadStress, sx, sy)) + ' ' + asLine(smooth(hUnloadCycle100, hUnloadStress, sx, sy)) + ` L${sx(0)},${sy(hCycle100Flat)}`;
  line(g, redPath, '#8e2a45', 1.4, 'h-cycle-100-curve');
  frame(g, box, sx, sy, hXTicks, hYTicks, 'h');
  add(g, 'path', {d: 'M879.3,835 Q920,780 970,754', fill: 'none', stroke: '#111', 'stroke-width': 1.1, 'marker-end': 'url(#arrow-black)'}, 'h-loading-arrow');
  add(g, 'path', {d: 'M1011.7,781.7 Q1003,835 966,861.7', fill: 'none', stroke: '#111', 'stroke-width': 1.1, 'marker-end': 'url(#arrow-black)'}, 'h-unloading-arrow');
})();
</script>
</body>
</html>
